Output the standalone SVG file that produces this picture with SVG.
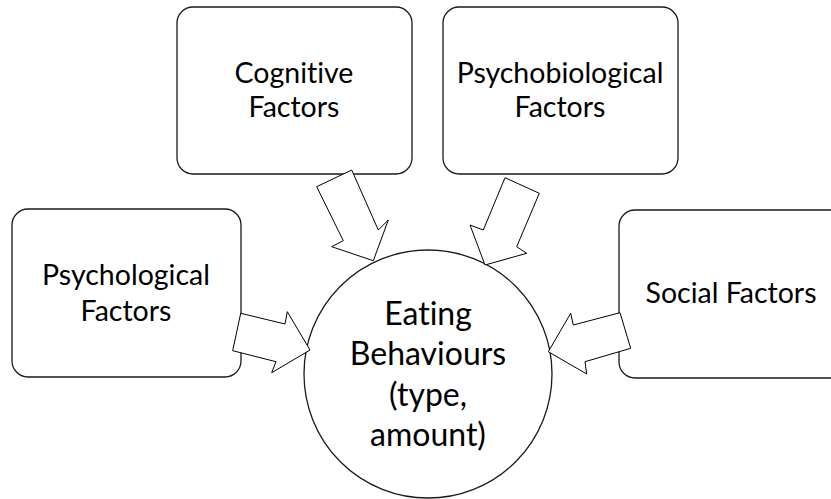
<svg xmlns="http://www.w3.org/2000/svg" width="831" height="499" viewBox="0 0 831 499">
<style>
.box{fill:#fff;stroke:#1a1a1a;stroke-width:1.3}
.arr{fill:#fff;stroke:#000;stroke-width:1;stroke-linejoin:miter}
.t{font-family:Lato,"Open Sans","Liberation Sans",sans-serif;font-size:28.5px;fill:#000;text-anchor:middle;font-variant-ligatures:none;font-feature-settings:"liga" 0,"dlig" 0}
.tc{font-family:Lato,"Open Sans","Liberation Sans",sans-serif;font-size:32px;fill:#000;text-anchor:middle;font-variant-ligatures:none;font-feature-settings:"liga" 0,"dlig" 0}
</style>
<rect width="831" height="499" fill="#fff"/>
<g id="cognitive">
<rect class="box" x="177" y="7" width="235" height="167" rx="16"/>
<text class="t" x="294" y="83">Cognitive</text>
<text class="t" x="294" y="117">Factors</text>
</g>
<g id="psychobiological">
<rect class="box" x="443" y="7" width="235" height="167" rx="16"/>
<text class="t" x="560" y="83">Psychobiological</text>
<text class="t" x="560" y="117">Factors</text>
</g>
<g id="psychological">
<rect class="box" x="12" y="209" width="229" height="168" rx="16"/>
<text class="t" x="126" y="285">Psychological</text>
<text class="t" x="126" y="321">Factors</text>
</g>
<g id="social">
<rect class="box" x="619" y="210" width="240" height="168" rx="16"/>
<text class="t" x="731" y="303">Social Factors</text>
</g>
<g id="eating">
<circle class="box" cx="428" cy="374" r="124"/>
<text class="tc" x="428" y="325">Eating</text>
<text class="tc" x="428" y="365">Behaviours</text>
<text class="tc" x="428" y="406">(type,</text>
<text class="tc" x="428" y="446">amount)</text>
</g>
<g id="connectors">
<polygon class="arr" points="316.7,186.7 351.7,170 378.3,230 388.3,220 373.3,260.7 331.7,246.7 343.3,240.7"/>
<polygon class="arr" points="505,177.7 539.3,193.3 516.7,246.7 526.7,253.3 485,265 470,225 483.3,230"/>
<polygon class="arr" points="240.7,313.3 232.7,350.7 276,361.7 271.7,372.7 310,350 287.3,311.7 285,324"/>
<polygon class="arr" points="620,312.7 630.7,348.3 585,361.7 586.7,374 548.3,351.7 570.7,313.3 573.3,325"/>
</g>
</svg>
